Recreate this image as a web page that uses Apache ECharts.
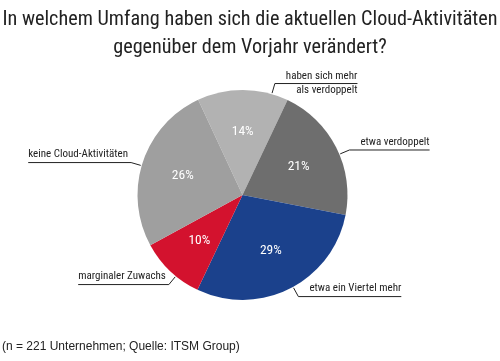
<!DOCTYPE html>
<html><head><meta charset="utf-8">
<script src="https://cdn.jsdelivr.net/npm/echarts@6/dist/echarts.min.js"></script>
<style>html,body{margin:0;padding:0;background:#fff}#c{width:500px;height:361px}</style>
</head><body><div id="c"></div>
<script>
const titleLines = ['In welchem Umfang haben sich die aktuellen Cloud-Aktivitäten', 'gegenüber dem Vorjahr verändert?'];
const footnote = '(n = 221 Unternehmen; Quelle: ITSM Group)';
const categories = ['haben sich mehr\nals verdoppelt', 'etwa verdoppelt', 'etwa ein Viertel mehr', 'marginaler Zuwachs', 'keine Cloud-Aktivitäten'];
const values = [14, 21, 29, 10, 26];
const colors = ['#b2b2b2', '#6e6e6e', '#1b418c', '#d3122e', '#9f9f9f'];
const angleShift = [-16, -4, 2, 4, 2];

const FONT = "'Roboto Condensed','Liberation Sans',Arial,sans-serif";
const CXP = 0.485, CYP = 0.54, R = 105, LEN = 11, GAP = 11;

const chart = echarts.init(document.getElementById('c'), null, {renderer: 'canvas'});
const data = categories.map((c, i) => ({name: c, value: values[i], itemStyle: {color: colors[i]}}));

function layout(p) {
  const i = p.dataIndex;
  const pts = p.labelLinePoints;
  if (!pts) return {};
  const cx = chart.getWidth() * CXP, cy = chart.getHeight() * CYP;
  const a = Math.atan2(cy - pts[0][1], pts[0][0] - cx) + angleShift[i] * Math.PI / 180;
  const e = [cx + (R + 1) * Math.cos(a), cy - (R + 1) * Math.sin(a)];
  const m = [cx + (R + LEN) * Math.cos(a), cy - (R + LEN) * Math.sin(a)];
  const w = p.labelRect.width;
  const right = Math.cos(a) >= 0;
  const multi = categories[i].indexOf('\n') >= 0;
  let endX, lx;
  if (right) { lx = m[0] + GAP + w; endX = lx; }
  else { lx = m[0] - 3; endX = lx - w; }
  return {
    x: lx,
    y: multi ? m[1] : m[1] - 1,
    align: 'right',
    verticalAlign: multi ? 'middle' : 'bottom',
    labelLinePoints: [e, m, [endX, m[1]]]
  };
}

chart.setOption({
  animation: false,
  title: [
    {text: titleLines.join('\n'), left: 'center', top: 1,
     textStyle: {fontFamily: FONT, fontSize: 20.2, fontWeight: 'normal', color: '#222', lineHeight: 28}},
    {text: footnote, left: -3, bottom: 3,
     textStyle: {fontFamily: "'Liberation Sans',Arial,sans-serif", fontSize: 12, fontWeight: 'normal', color: '#222'}}
  ],
  series: [
    {
      type: 'pie', center: [CXP * 100 + '%', CYP * 100 + '%'], radius: [0, R],
      startAngle: 115, clockwise: true, silent: true,
      data: data,
      label: {show: true, position: 'outside', overflow: 'none', fontFamily: FONT, fontSize: 11, color: '#222', lineHeight: 14},
      labelLine: {show: true, length: LEN, length2: 20, smooth: false, lineStyle: {color: '#222', width: 1}},
      labelLayout: layout,
      emphasis: {disabled: true}
    },
    {
      type: 'pie', center: [CXP * 100 + '%', CYP * 100 + '%'], radius: [0, R * 1.14],
      startAngle: 115, clockwise: true, silent: true,
      data: values.map((v, i) => ({name: categories[i], value: v})),
      itemStyle: {color: 'rgba(0,0,0,0)'},
      label: {show: true, position: 'inside', formatter: '{c}%', fontFamily: FONT, fontSize: 13.5, color: '#fff'},
      labelLine: {show: false},
      emphasis: {disabled: true}
    }
  ]
});
</script></body></html>
